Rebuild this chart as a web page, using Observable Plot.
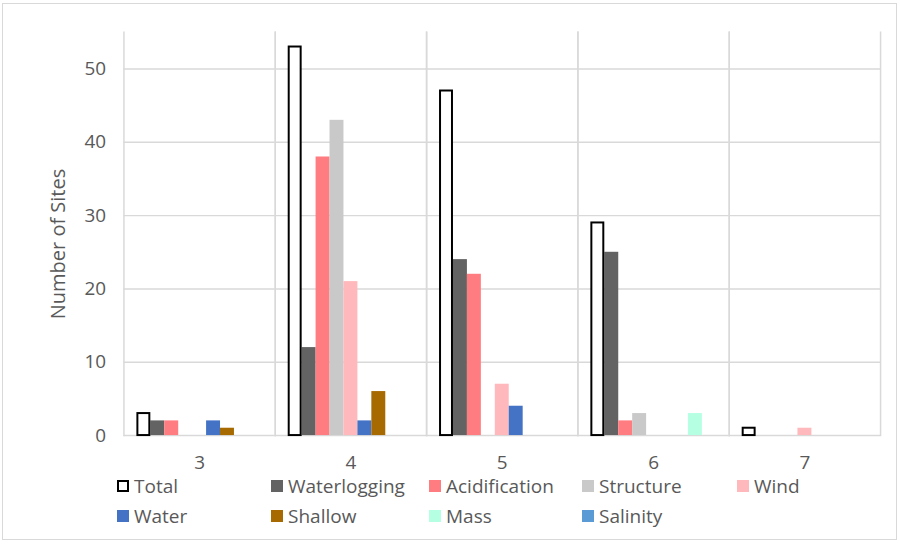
<!DOCTYPE html>
<html><head><meta charset="utf-8">
<script src="https://cdn.jsdelivr.net/npm/d3@7"></script>
<script src="https://cdn.jsdelivr.net/npm/@observablehq/plot@0.6"></script>
<style>
html,body{margin:0;padding:0;background:#fff;}
#wrap{position:absolute;left:2px;top:3px;width:895px;height:537px;border:1px solid #d9d9d9;box-sizing:border-box;overflow:hidden;}
#chart{position:absolute;left:-3px;top:-4px;}
.legend{position:absolute;left:0;top:0;font-family:"Open Sans",sans-serif;font-size:19px;color:#595959;}
.item{position:absolute;display:flex;align-items:center;white-space:nowrap;}
.sw{width:12px;height:12px;margin-right:5px;box-sizing:border-box;}
#ylab{position:absolute;left:54px;top:240px;transform:translate(-50%,-50%) rotate(-90deg);font-family:"Open Sans",sans-serif;font-size:20px;color:#595959;white-space:nowrap;}
</style></head>
<body>
<div id="wrap"><div id="chart"></div><div id="ylab">Number of Sites</div></div>
<script>
const categories = ["3","4","5","6","7"];
const series = ["Total","Waterlogging","Acidification","Structure","Wind","Water","Shallow","Mass","Salinity"];
const colors = ["#ffffff","#636363","#ff7c80","#c9c9c9","#ffb9bd","#4472c4","#a66a00","#b5ffe3","#5b9bd5"];
const total        = [3,53,47,29,1];
const waterlogging = [2,12,24,25,0];
const acidification= [2,38,22,2,0];
const structure    = [0,43,0,3,0];
const wind         = [0,21,7,0,1];
const water        = [2,2,4,0,0];
const shallow      = [1,6,0,0,0];
const mass         = [0,0,0,3,0];
const salinity     = [0,0,0,0,0];
const yTicks = [0,10,20,30,40,50];

const values = [total,waterlogging,acidification,structure,wind,water,shallow,mass,salinity];
const data = [];
categories.forEach((c,i)=>series.forEach((s,j)=>data.push({cat:c, series:s, value:values[j][i]})));

const chart = Plot.plot({
  width: 900, height: 478,
  marginLeft: 122, marginRight: 14, marginTop: 32, marginBottom: 41,
  style: {fontFamily: "'Open Sans', sans-serif", fontSize: "19px", color: "#595959", background: "#fff"},
  fx: {domain: categories, padding: 0, label: null, tickSize: 0, tickPadding: 20},
  x: {domain: series, paddingInner: 0, paddingOuter: 0.68, axis: null},
  y: {domain: [0,55], ticks: yTicks, label: null},
  color: {domain: series, range: colors},
  marks: [
    Plot.gridY(yTicks, {stroke: "#d9d9d9", strokeOpacity: 1, strokeWidth: 1.5}),
    Plot.frame({anchor: "left", stroke: "#d9d9d9", strokeWidth: 1.5}),
    Plot.frame({anchor: "right", stroke: "#d9d9d9", strokeWidth: 1.5}),
    Plot.axisY(yTicks, {tickSize: 0, tickPadding: 18, label: null, fontSize: 19}),
    Plot.barY(data.filter(d=>d.series!=="Total"), {fx: "cat", x: "series", y: "value", fill: "series"}),
    Plot.barY(data.filter(d=>d.series==="Total"), {fx: "cat", x: "series", y: "value", fill: "#fff", stroke: "#000", strokeWidth: 2, insetLeft: 1, insetRight: 1})
  ]
});
document.getElementById("chart").appendChild(chart);

// legend
const leg = document.createElement("div");
leg.className = "legend";
const colX = [114, 268, 426, 579, 734];
series.forEach((s,i)=>{
  const row = Math.floor(i/5), col = i%5;
  const it = document.createElement("div");
  it.className = "item";
  it.style.left = colX[col] + "px";
  it.style.top = (469 + row*30) + "px";
  const sw = document.createElement("div");
  sw.className = "sw";
  sw.style.background = colors[i];
  if (s === "Total") sw.style.border = "2px solid #000";
  it.appendChild(sw);
  const t = document.createElement("span");
  t.textContent = s;
  it.appendChild(t);
  leg.appendChild(it);
});
document.getElementById("wrap").appendChild(leg);
</script>
</body></html>
